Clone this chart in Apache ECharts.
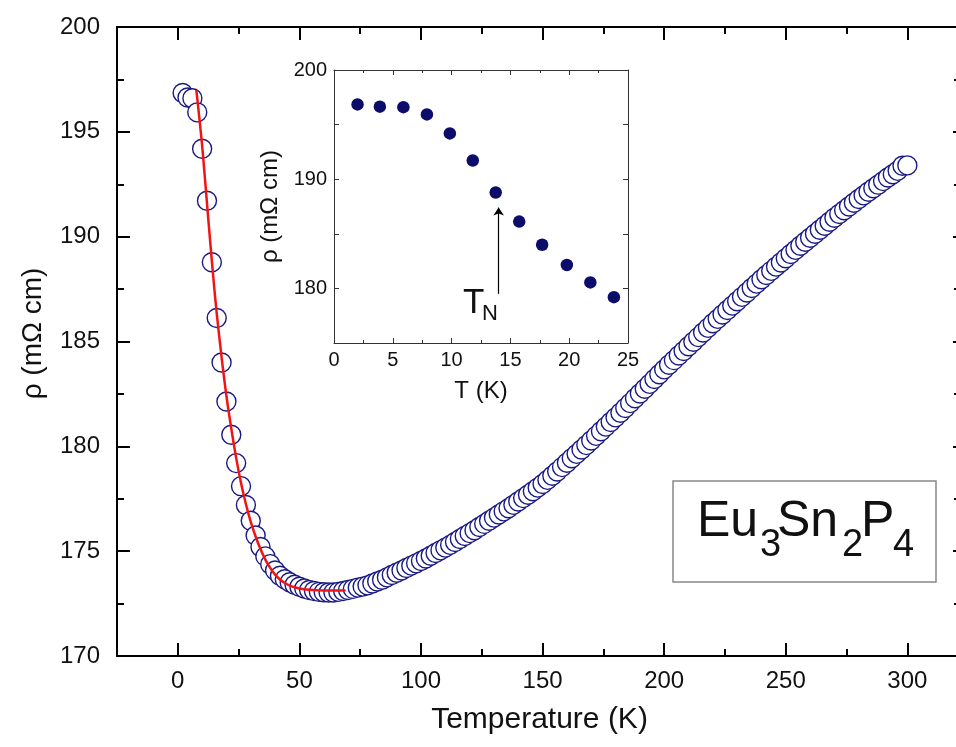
<!DOCTYPE html>
<html>
<head>
<meta charset="utf-8">
<title>Eu3Sn2P4 resistivity</title>
<script src="https://cdn.jsdelivr.net/npm/echarts@6.0.0/dist/echarts.min.js"></script>
<style>
  html, body { margin: 0; padding: 0; background: #fff; width: 956px; height: 747px; overflow: hidden; }
  #chart { position: absolute; left: 0; top: 0; width: 956px; height: 747px; }
</style>
</head>
<body>
<div id="chart"></div>
<script>
// main curve: rho(T), open circles
var temps = [2, 4, 6, 8, 10, 12, 14, 16, 18, 20, 22, 24, 26, 28, 30, 32, 34, 36, 38, 40,
  42, 44, 46, 48, 50, 52, 54, 56, 58, 60, 62, 64, 66, 68, 70, 72, 74, 76, 78, 80,
  82, 84, 86, 88, 90, 92, 94, 96, 98, 100, 102, 104, 106, 108, 110, 112, 114, 116, 118, 120,
  122, 124, 126, 128, 130, 132, 134, 136, 138, 140, 142, 144, 146, 148, 150, 152, 154, 156, 158, 160,
  162, 164, 166, 168, 170, 172, 174, 176, 178, 180, 182, 184, 186, 188, 190, 192, 194, 196, 198, 200,
  202, 204, 206, 208, 210, 212, 214, 216, 218, 220, 222, 224, 226, 228, 230, 232, 234, 236, 238, 240,
  242, 244, 246, 248, 250, 252, 254, 256, 258, 260, 262, 264, 266, 268, 270, 272, 274, 276, 278, 280,
  282, 284, 286, 288, 290, 292, 294, 296, 298, 300];
var rho = [196.85, 196.64, 196.6, 195.93, 194.19, 191.71, 188.78, 186.12, 184.0, 182.14, 180.55, 179.2, 178.1, 177.2, 176.45, 175.75, 175.2, 174.75, 174.38, 174.08,
  173.83, 173.66, 173.52, 173.4, 173.3, 173.22, 173.15, 173.1, 173.06, 173.04, 173.03, 173.03, 173.06, 173.1, 173.15, 173.2, 173.26, 173.31, 173.37, 173.46,
  173.55, 173.64, 173.75, 173.86, 173.97, 174.08, 174.2, 174.31, 174.42, 174.53, 174.65, 174.78, 174.91, 175.04, 175.17, 175.3, 175.44, 175.58, 175.72, 175.86,
  176.0, 176.15, 176.3, 176.45, 176.6, 176.75, 176.9, 177.05, 177.21, 177.37, 177.53, 177.69, 177.86, 178.03, 178.2, 178.4, 178.6, 178.8, 179.01, 179.22,
  179.43, 179.64, 179.85, 180.06, 180.28, 180.5, 180.72, 180.94, 181.16, 181.38, 181.6, 181.83, 182.06, 182.29, 182.52, 182.75, 182.98, 183.21, 183.44, 183.67,
  183.89, 184.11, 184.33, 184.55, 184.77, 184.99, 185.21, 185.43, 185.65, 185.87, 186.08, 186.29, 186.5, 186.71, 186.92, 187.13, 187.34, 187.55, 187.76, 187.97,
  188.17, 188.37, 188.57, 188.77, 188.97, 189.17, 189.37, 189.57, 189.76, 189.95, 190.14, 190.33, 190.52, 190.71, 190.9, 191.08, 191.26, 191.44, 191.62, 191.8,
  191.97, 192.14, 192.31, 192.48, 192.65, 192.82, 192.98, 193.14, 193.38, 193.4];

// red fit line (low T)
var fitT = [7.6, 8, 9, 10, 11, 12, 13, 14, 15, 16, 18, 20, 22, 24, 26, 28, 30, 32, 34, 36,
  38, 40, 42, 44, 46, 48, 50, 54, 58, 62, 66, 69];
var fitRho = [197.0, 196.6, 195.5, 194.35, 193.0, 191.6, 190.2, 188.85, 187.55, 186.35, 184.25, 182.4, 180.85, 179.45, 178.25, 177.25, 176.4, 175.7, 175.1, 174.6,
  174.2, 173.88, 173.65, 173.48, 173.36, 173.28, 173.22, 173.16, 173.13, 173.12, 173.12, 173.13];

// inset: filled dots
var insetT = [2, 3.9, 5.9, 7.9, 9.85, 11.8, 13.75, 15.75, 17.7, 19.8, 21.8, 23.8];
var insetRho = [196.85, 196.64, 196.6, 195.93, 194.19, 191.71, 188.78, 186.12, 184.0, 182.14, 180.55, 179.2];

// tick values
var xMajorTicks = [0, 50, 100, 150, 200, 250, 300];
var xMinorTicks = [-25, 0, 25, 50, 75, 100, 125, 150, 175, 200, 225, 250, 275, 300];
var insetYLabels = [180, 190, 200];
var tnArrow = [14, 179.5, 187.4]; // T, from rho, to rho

var FONT = 'Liberation Sans, Arial, sans-serif';
var INK = '#111';

function pairs(xs, ys) {
  var out = [];
  for (var i = 0; i < xs.length; i++) out.push([xs[i], ys[i]]);
  return out;
}

var axisBlack = { show: true, onZero: false, lineStyle: { color: '#000', width: 2 } };
var axisGray = { show: true, onZero: false, lineStyle: { color: '#333', width: 1 } };
var noLine = { show: false, onZero: false };

var myChart = echarts.init(document.getElementById('chart'), null, { renderer: 'canvas', width: 956, height: 747 });

var option = {
  backgroundColor: '#fff',
  animation: false,
  textStyle: { fontFamily: FONT },
  grid: [
    // right edge of the main frame sits on the page edge
    { left: 117, top: 27, width: 839, height: 629, containLabel: false, outerBoundsMode: 'none' },
    { left: 334, top: 70, width: 294, height: 273, containLabel: false, outerBoundsMode: 'none' }
  ],
  xAxis: [
    { // 0: main bottom, short ticks + labels
      gridIndex: 0, type: 'value', position: 'bottom', min: -25, max: 320,
      axisLine: axisBlack,
      axisTick: { show: true, inside: true, length: 7, customValues: xMinorTicks, lineStyle: { color: '#000', width: 2 } },
      axisLabel: { customValues: xMajorTicks, fontSize: 24, color: INK, margin: 13, fontFamily: FONT },
      splitLine: { show: false },
      name: 'Temperature (K)', nameLocation: 'middle', nameGap: 49,
      nameTextStyle: { fontSize: 30, color: INK, fontFamily: FONT, padding: [0, 0, 0, 6] }
    },
    { // 1: main bottom, long ticks
      gridIndex: 0, type: 'value', position: 'bottom', min: -25, max: 320,
      axisLine: noLine,
      axisTick: { show: true, inside: true, length: 13, customValues: xMajorTicks, lineStyle: { color: '#000', width: 2 } },
      axisLabel: { show: false }, splitLine: { show: false }
    },
    { // 2: main top, short ticks
      gridIndex: 0, type: 'value', position: 'top', min: -25, max: 320,
      axisLine: axisBlack,
      axisTick: { show: true, inside: true, length: 7, customValues: xMinorTicks, lineStyle: { color: '#000', width: 2 } },
      axisLabel: { show: false }, splitLine: { show: false }
    },
    { // 3: main top, long ticks
      gridIndex: 0, type: 'value', position: 'top', min: -25, max: 320,
      axisLine: noLine,
      axisTick: { show: true, inside: true, length: 13, customValues: xMajorTicks, lineStyle: { color: '#000', width: 2 } },
      axisLabel: { show: false }, splitLine: { show: false }
    },
    { // 4: inset bottom
      gridIndex: 1, type: 'value', position: 'bottom', min: 0, max: 25, interval: 5,
      axisLine: axisGray,
      axisTick: { show: true, inside: true, length: 5, lineStyle: { color: '#333' } },
      minorTick: { show: true, splitNumber: 2, length: 3, lineStyle: { color: '#333' } },
      axisLabel: { fontSize: 20, color: INK, margin: 7, fontFamily: FONT, showMinLabel: true, showMaxLabel: true },
      splitLine: { show: false },
      name: 'T (K)', nameLocation: 'middle', nameGap: 36,
      nameTextStyle: { fontSize: 24, color: INK, fontFamily: FONT }
    },
    { // 5: inset top
      gridIndex: 1, type: 'value', position: 'top', min: 0, max: 25, interval: 5,
      axisLine: axisGray,
      axisTick: { show: true, inside: true, length: 5, lineStyle: { color: '#333' } },
      minorTick: { show: true, splitNumber: 2, length: 3, lineStyle: { color: '#333' } },
      axisLabel: { show: false }, splitLine: { show: false }
    }
  ],
  yAxis: [
    { // 0: main left
      gridIndex: 0, type: 'value', position: 'left', min: 170, max: 200, interval: 5,
      axisLine: axisBlack,
      axisTick: { show: true, inside: true, length: 13, lineStyle: { color: '#000', width: 2 } },
      minorTick: { show: true, splitNumber: 2, length: 7, lineStyle: { color: '#000', width: 2 } },
      axisLabel: { fontSize: 24, color: INK, margin: 17, fontFamily: FONT, showMinLabel: true, showMaxLabel: true },
      splitLine: { show: false },
      name: 'ρ (mΩ cm)', nameLocation: 'middle', nameGap: 70,
      nameTextStyle: { fontSize: 28, color: INK, fontFamily: FONT, padding: [0, 0, 0, 16] }
    },
    { // 1: main right, only the tips of the ticks show at the page edge
      gridIndex: 0, type: 'value', position: 'right', min: 170, max: 200, interval: 5,
      axisLine: noLine,
      axisTick: { show: true, inside: true, length: 3, lineStyle: { color: '#000', width: 2 } },
      minorTick: { show: true, splitNumber: 2, length: 2, lineStyle: { color: '#000', width: 2 } },
      axisLabel: { show: false }, splitLine: { show: false }
    },
    { // 2: inset left
      gridIndex: 1, type: 'value', position: 'left', min: 175, max: 200, interval: 5,
      axisLine: axisGray,
      axisTick: { show: true, inside: true, length: 5, lineStyle: { color: '#333' } },
      axisLabel: { customValues: insetYLabels, fontSize: 20, color: INK, margin: 7, fontFamily: FONT },
      splitLine: { show: false },
      name: 'ρ (mΩ cm)', nameLocation: 'middle', nameGap: 52,
      nameTextStyle: { fontSize: 24, color: INK, fontFamily: FONT }
    },
    { // 3: inset right
      gridIndex: 1, type: 'value', position: 'right', min: 175, max: 200, interval: 5,
      axisLine: axisGray,
      axisTick: { show: true, inside: true, length: 5, lineStyle: { color: '#333' } },
      axisLabel: { show: false }, splitLine: { show: false }
    }
  ],
  series: [
    {
      name: 'rho', type: 'scatter', xAxisIndex: 0, yAxisIndex: 0,
      data: pairs(temps, rho),
      symbol: 'circle', symbolSize: 19,
      itemStyle: { color: '#fff', borderColor: '#1a1a84', borderWidth: 1.4, opacity: 1 },
      z: 2
    },
    {
      name: 'fit', type: 'line', xAxisIndex: 0, yAxisIndex: 0,
      data: pairs(fitT, fitRho),
      showSymbol: false, smooth: 0.3,
      lineStyle: { color: '#f01414', width: 2.5 },
      z: 3
    },
    {
      name: 'inset', type: 'scatter', xAxisIndex: 4, yAxisIndex: 2,
      data: pairs(insetT, insetRho),
      symbol: 'circle', symbolSize: 12.5,
      itemStyle: { color: '#0c0c6a', opacity: 1 },
      markLine: {
        silent: true,
        symbol: ['none', 'arrow'],
        symbolSize: 8,
        label: { show: false },
        lineStyle: { color: '#000', width: 1.2, type: 'solid' },
        data: [[{ coord: [tnArrow[0], tnArrow[1]] }, { coord: [tnArrow[0], tnArrow[2]] }]]
      }
    }
  ],
  graphic: [
    // T_N label
    { type: 'text', x: 463, y: 303, style: { text: 'T', font: '35px ' + FONT, fill: INK, verticalAlign: 'middle' } },
    { type: 'text', x: 482, y: 314, style: { text: 'N', font: '22px ' + FONT, fill: INK, verticalAlign: 'middle' } },
    // compound box
    { type: 'rect', shape: { x: 673, y: 481, width: 263, height: 101 },
      style: { fill: '#fff', stroke: '#888', lineWidth: 1.5 } },
    { type: 'text', x: 697, y: 522, style: { text: 'Eu', font: '50px ' + FONT, fill: INK, verticalAlign: 'middle' } },
    { type: 'text', x: 760, y: 546, style: { text: '3', font: '38px ' + FONT, fill: INK, verticalAlign: 'middle' } },
    { type: 'text', x: 777, y: 522, style: { text: 'Sn', font: '50px ' + FONT, fill: INK, verticalAlign: 'middle' } },
    { type: 'text', x: 842, y: 546, style: { text: '2', font: '38px ' + FONT, fill: INK, verticalAlign: 'middle' } },
    { type: 'text', x: 861, y: 522, style: { text: 'P', font: '50px ' + FONT, fill: INK, verticalAlign: 'middle' } },
    { type: 'text', x: 893, y: 546, style: { text: '4', font: '38px ' + FONT, fill: INK, verticalAlign: 'middle' } }
  ]
};

myChart.setOption(option);
</script>
</body>
</html>
